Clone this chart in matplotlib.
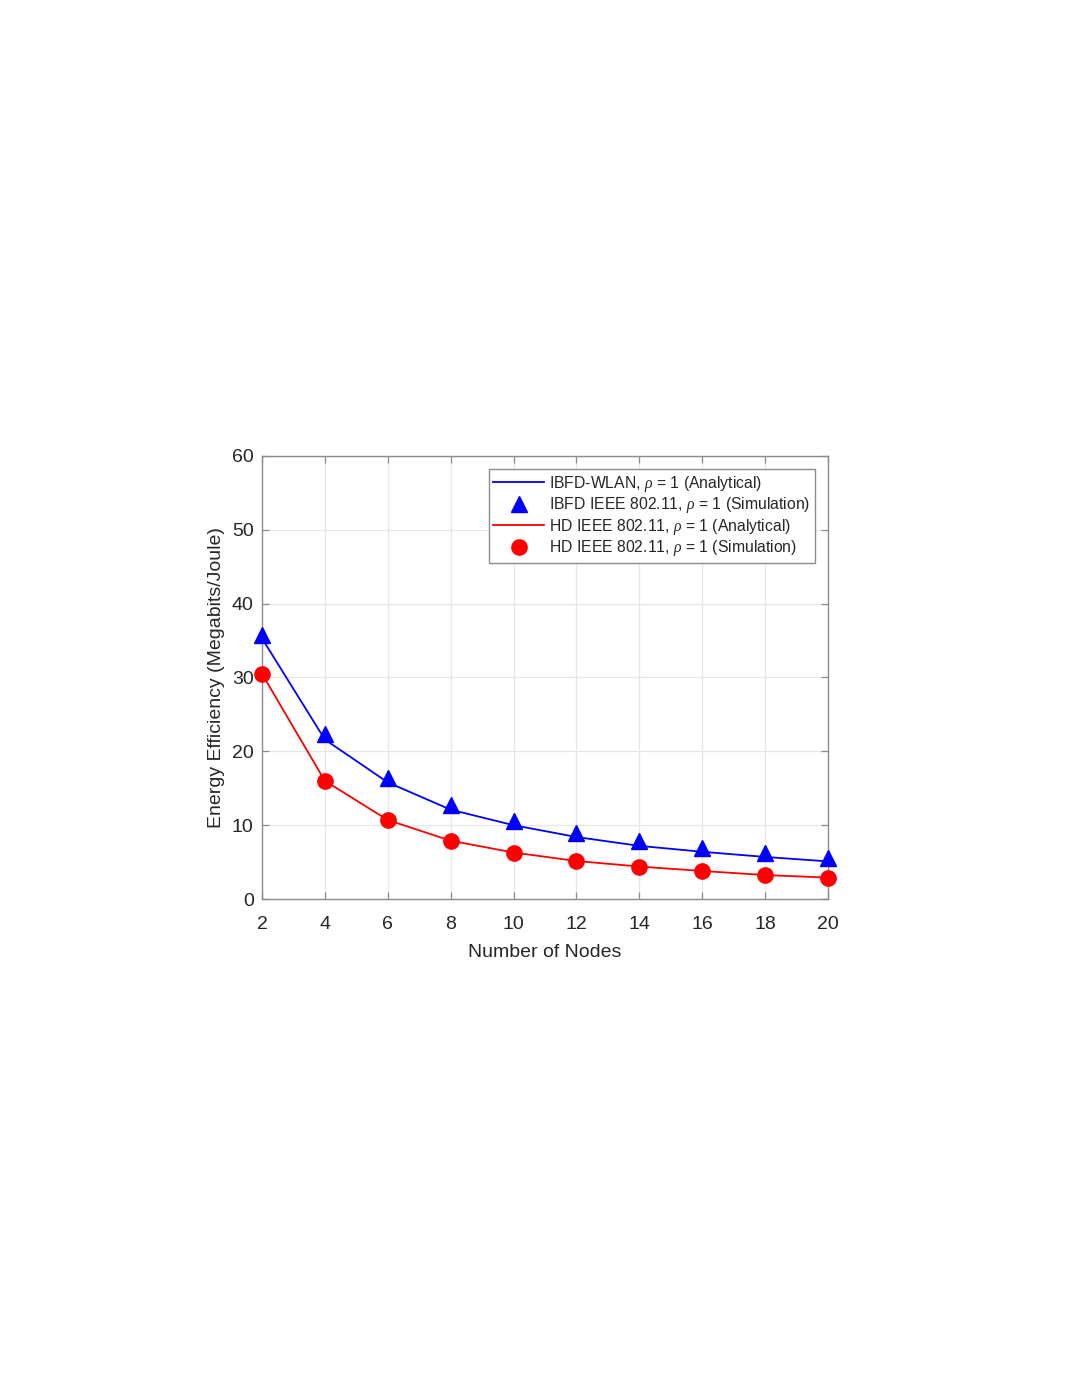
import numpy as np
import matplotlib
matplotlib.use("Agg")
import matplotlib.pyplot as plt

# data
nodes = [2, 4, 6, 8, 10, 12, 14, 16, 18, 20]
ibfd_analytical = [35.3, 21.6, 15.8, 12.1, 10.0, 8.4, 7.2, 6.4, 5.7, 5.1]
ibfd_simulation = [35.8, 22.3, 16.4, 12.8, 10.6, 9.0, 7.8, 6.9, 6.2, 5.5]
hd_analytical = [30.5, 16.0, 10.7, 7.9, 6.3, 5.15, 4.4, 3.8, 3.25, 2.9]
hd_simulation = [30.5, 16.0, 10.7, 7.9, 6.3, 5.15, 4.4, 3.8, 3.25, 2.9]

labels = [
    r"IBFD-WLAN, $\rho$ = 1 (Analytical)",
    r"IBFD IEEE 802.11, $\rho$ = 1 (Simulation)",
    r"HD IEEE 802.11, $\rho$ = 1 (Analytical)",
    r"HD IEEE 802.11, $\rho$ = 1 (Simulation)",
]

plt.rcParams['font.family'] = ['Liberation Sans', 'DejaVu Sans']
plt.rcParams['mathtext.fontset'] = 'custom'
plt.rcParams['mathtext.it'] = 'Liberation Serif:italic'
text_col = '#262626'
axis_col = '#8c8c8c'

fig = plt.figure(figsize=(10.65, 13.77), dpi=100)
ax = fig.add_axes([0.246, 0.3471, 0.5315, 0.3218])

ax.plot(nodes, ibfd_analytical, color='blue', lw=1.3, label=labels[0], zorder=3)
ax.plot(nodes, ibfd_simulation, ls='none', marker='^', ms=11, color='blue',
        label=labels[1], zorder=4, clip_on=False)
ax.plot(nodes, hd_analytical, color='red', lw=1.3, label=labels[2], zorder=3)
ax.plot(nodes, hd_simulation, ls='none', marker='o', ms=11, color='red',
        label=labels[3], zorder=4, clip_on=False)

ax.set_xlim(2, 20)
ax.set_ylim(0, 60)
ax.set_xticks(nodes)
ax.set_yticks(range(0, 61, 10))
ax.grid(True, color='#e6e6e6', lw=0.9)
ax.set_axisbelow(True)

for s in ax.spines.values():
    s.set_color(axis_col)
    s.set_linewidth(1.0)
ax.tick_params(direction='in', top=True, right=True, length=5, width=0.9,
               color=axis_col, labelcolor=text_col, labelsize=14, pad=6)
ax.tick_params(axis='x', pad=12)

ax.set_xlabel("Number of Nodes", fontsize=14, color=text_col, labelpad=8)
ax.set_ylabel("Energy Efficiency (Megabits/Joule)", fontsize=14, color=text_col,
              labelpad=5)

leg = ax.legend(loc='upper right', fontsize=11.3, frameon=True, fancybox=False,
                edgecolor=axis_col, framealpha=1, borderaxespad=0.85,
                handlelength=3.25, labelspacing=0.1, borderpad=0.28,
                handletextpad=0.3)
leg.get_frame().set_linewidth(1.0)
for t in leg.get_texts():
    t.set_color(text_col)

fig.savefig("out.png", dpi=100)
